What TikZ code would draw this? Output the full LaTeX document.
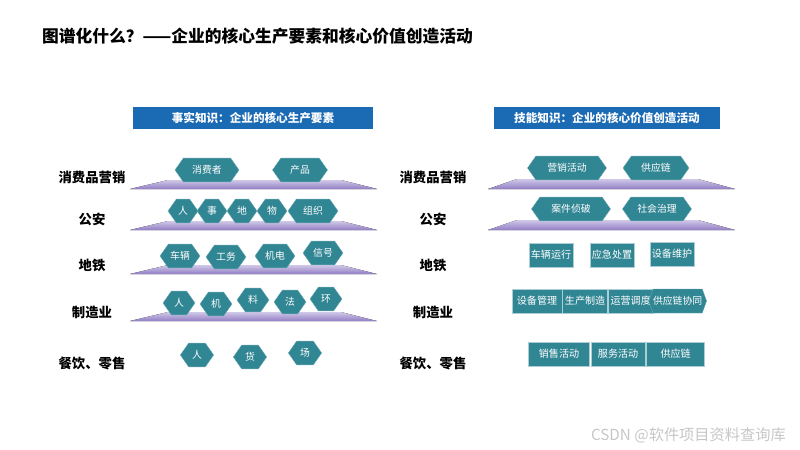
\documentclass[tikz,border=0pt]{standalone}
\usepackage{fontspec}
\setmainfont{Noto Sans CJK SC}
\usepackage{xcolor}
\usepackage{tikz}
\usetikzlibrary{shapes.symbols, positioning}
\definecolor{hexteal}{RGB}{49,134,148}
\definecolor{headblue}{RGB}{26,106,180}
\definecolor{boxedge}{RGB}{170,205,214}
\definecolor{trapTop}{RGB}{208,200,232}
\definecolor{trapBot}{RGB}{146,126,196}

\begin{document}
\begin{tikzpicture}[x=0.03cm, y=-0.03cm,
    hexnode/.style={signal, signal to=east and west, signal pointer angle=110, fill=hexteal, draw=hexteal!70!white, line width=0.3pt, text=white, minimum height=7.1mm, inner sep=1pt, font=\fontsize{8.4}{9}\selectfont},
    boxnode/.style={rectangle, fill=hexteal, draw=boxedge, line width=0.5pt, text=white, minimum height=7.1mm, inner sep=1pt, font=\fontsize{8.6}{10}\selectfont},
    header/.style={rectangle, fill=headblue, text=white, minimum height=6.6mm, font=\fontsize{9.9}{11}\bfseries\selectfont},
    rowlabel/.style={font=\fontsize{11.4}{13}\bfseries\selectfont},
    trap/.style={top color=trapTop, bottom color=trapBot}
]
\useasboundingbox (0,0) rectangle (800,450);

% title and headers
\node[anchor=west, font=\fontsize{14.3}{17}\bfseries\selectfont] (title) at (38,36) {图谱化什么？——企业的核心生产要素和核心价值创造活动};
\node[header, minimum width=72mm] (factHead) at (253,118) {事实知识：企业的核心生产要素};
\node[header, minimum width=67.8mm] (skillHead) at (607,118) {技能知识：企业的核心价值创造活动};

% row labels
\foreach \lx in {92,433} {
  \node[rowlabel] (lblA\lx) at (\lx,177) {消费品营销};
  \node[rowlabel] (lblB\lx) at (\lx,219) {公安};
  \node[rowlabel] (lblC\lx) at (\lx,265) {地铁};
  \node[rowlabel] (lblD\lx) at (\lx,312) {制造业};
  \node[rowlabel] (lblE\lx) at (\lx,363) {餐饮、零售};
}

% platforms
\foreach \ty in {180,221,265,312} {
  \fill[trap] (130,\ty+9) -- (168,\ty) -- (341,\ty) -- (377,\ty+9) -- cycle;
}
\foreach \ty in {179,220} {
  \fill[trap] (488,\ty+10) -- (517,\ty) -- (698,\ty) -- (735,\ty+10) -- cycle;
}

% fact knowledge
\node[hexnode, minimum width=19.2mm] (consumer) at (207,170) {消费者};
\node[hexnode, minimum width=16.5mm] (product) at (300,170) {产品};

\node[hexnode, minimum width=9mm] (polPerson) at (183,211) {人};
\node[hexnode, minimum width=9mm] (polEvent) at (212,211) {事};
\node[hexnode, minimum width=9mm] (polPlace) at (242,211) {地};
\node[hexnode, minimum width=9mm] (polThing) at (272,211) {物};
\node[hexnode, minimum width=15mm] (polOrg) at (313,211) {组织};

\node[hexnode, minimum width=12mm] (metVehicle) at (180,256) {车辆};
\node[hexnode, minimum width=12mm] (metWorks) at (226,257) {工务};
\node[hexnode, minimum width=12mm] (metMech) at (275,256) {机电};
\node[hexnode, minimum width=12mm] (metSignal) at (323,253) {信号};

\node[hexnode, minimum width=9.6mm] (mfgMan) at (179,303) {人};
\node[hexnode, minimum width=9.6mm] (mfgMachine) at (216,304) {机};
\node[hexnode, minimum width=9.6mm] (mfgMaterial) at (253,300) {料};
\node[hexnode, minimum width=9.6mm] (mfgMethod) at (290,302) {法};
\node[hexnode, minimum width=9.6mm] (mfgEnv) at (326,299) {环};

\node[hexnode, minimum width=10mm] (retPerson) at (197,355) {人};
\node[hexnode, minimum width=10mm] (retGoods) at (250,357) {货};
\node[hexnode, minimum width=10mm] (retField) at (305,353) {场};

% skill knowledge
\node[hexnode, minimum width=23.7mm] (mkt) at (567,168) {营销活动};
\node[hexnode, minimum width=19.8mm] (supply) at (656,168) {供应链};

\node[hexnode, minimum width=23.7mm] (caseSolve) at (571,209) {案件侦破};
\node[hexnode, minimum width=20.7mm] (govern) at (657,209) {社会治理};

\node[boxnode, minimum width=13.2mm] (trainRun) at (551,255) {车辆运行};
\node[boxnode, minimum width=13.2mm] (emergency) at (612,255) {应急处置};
\node[boxnode, minimum width=13.2mm] (maintain) at (672,254) {设备维护};

\node[boxnode, minimum width=15mm] (equipMgmt) at (537,301) {设备管理};
\node[boxnode, minimum width=13.5mm, right=0pt of equipMgmt] (produce) {生产制造};
\node[boxnode, minimum width=13.5mm, right=0pt of produce] (dispatch) {运营调度};
\node[hexnode, signal pointer angle=140, minimum width=16.8mm, minimum height=7.2mm, inner xsep=0pt, font=\fontsize{8.4}{9}\selectfont, right=-1.5mm of dispatch] (supplyCoop) {供应链协同};

\node[boxnode, minimum width=18.3mm] (sales) at (559,354) {销售活动};
\node[boxnode, minimum width=16.2mm, right=0.3mm of sales] (service) {服务活动};
\node[boxnode, minimum width=17.4mm, right=0.3mm of service] (supplyRet) {供应链};

% watermark
\node[anchor=east, text=gray!45, font=\fontsize{13}{15}\selectfont] (mark) at (790,435) {CSDN @软件项目资料查询库};
\end{tikzpicture}
\end{document}
